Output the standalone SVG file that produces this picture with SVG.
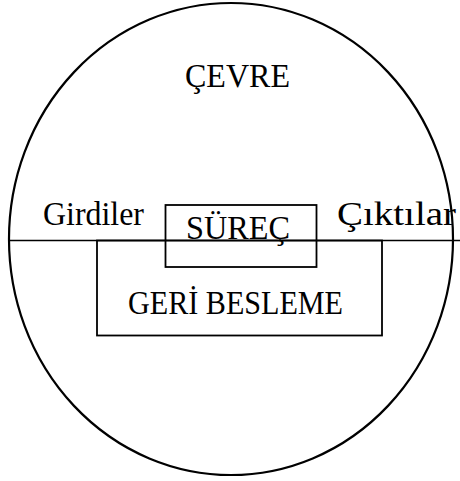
<svg xmlns="http://www.w3.org/2000/svg" width="460" height="481" viewBox="0 0 460 481">
<style>
.t{font-family:"Liberation Serif","Times New Roman",serif;font-size:33px;fill:#000}
.s{fill:none;stroke:#000}
</style>
<rect width="460" height="481" fill="#fff"/>
<g id="cevre">
<ellipse class="s" cx="231" cy="239" rx="222" ry="236" stroke-width="2.2"/>
<text class="t" x="185" y="87" textLength="105" lengthAdjust="spacingAndGlyphs">ÇEVRE</text>
</g>
<g id="connectors">
<line class="s" x1="10" y1="240.5" x2="460" y2="240.5" stroke-width="1.6"/>
</g>
<g id="girdiler">
<text class="t" x="43" y="225" textLength="101" lengthAdjust="spacingAndGlyphs">Girdiler</text>
</g>
<g id="ciktilar">
<text class="t" x="337" y="225" textLength="119" lengthAdjust="spacingAndGlyphs">Çıktılar</text>
</g>
<g id="geri-besleme">
<rect class="s" x="97" y="240.5" width="285" height="95" stroke-width="1.8"/>
<text class="t" x="128" y="314" textLength="215" lengthAdjust="spacingAndGlyphs">GERİ BESLEME</text>
</g>
<g id="surec">
<rect class="s" x="165.5" y="205" width="151" height="62" stroke-width="1.8"/>
<text class="t" x="186" y="239" textLength="104" lengthAdjust="spacingAndGlyphs">SÜREÇ</text>
</g>
</svg>
